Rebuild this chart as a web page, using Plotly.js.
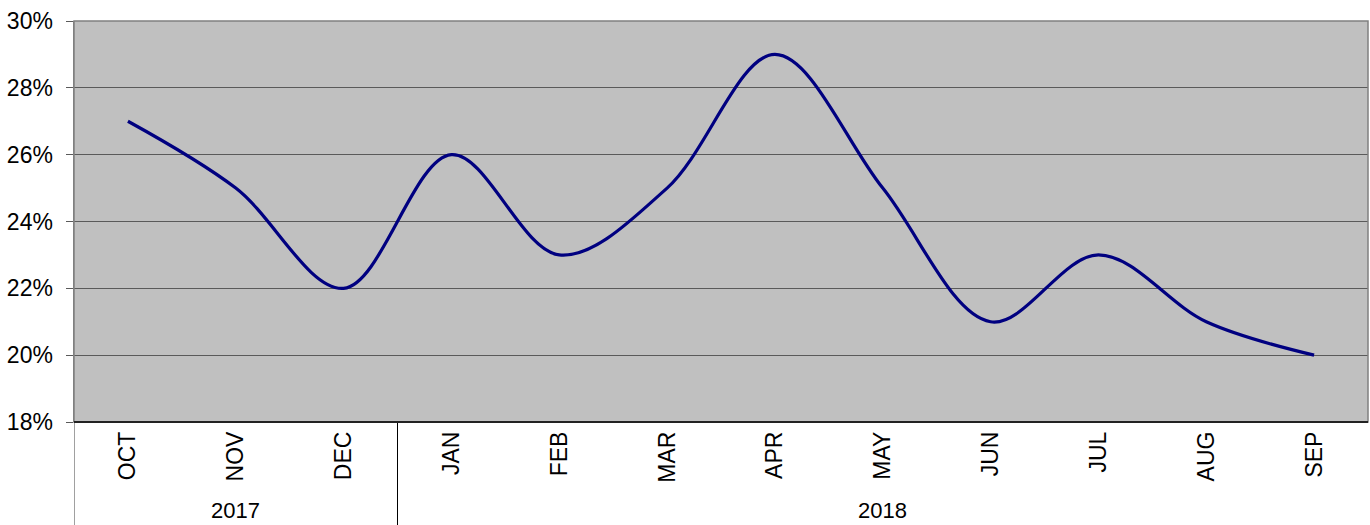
<!DOCTYPE html>
<html>
<head>
<meta charset="utf-8">
<script src="https://cdn.plot.ly/plotly-3.0.1.min.js"></script>
<style>html,body{margin:0;padding:0;background:#fff;}#chart{width:1370px;height:525px;}</style>
</head>
<body>
<div id="chart"></div>
<script>
const months = ["OCT","NOV","DEC","JAN","FEB","MAR","APR","MAY","JUN","JUL","AUG","SEP"];
const years = ["2017","2017","2017","2018","2018","2018","2018","2018","2018","2018","2018","2018"];
const values = [0.27,0.25,0.22,0.26,0.23,0.25,0.29,0.25,0.21,0.23,0.21,0.20];
const yearLabels = ["2017","2018"];

const idx = months.map((m,i)=>i);
const font = "Liberation Sans, Arial, sans-serif";

const groups = yearLabels.map(y=>{
  const ids = idx.filter(i=>years[i]===y);
  return {year:y, start:ids[0], end:ids[ids.length-1]};
});

const annotations = groups.map(g=>({
  x:(g.start+g.end)/2, xref:'x', y:-0.221, yref:'paper',
  text:g.year, showarrow:false, yanchor:'middle',
  font:{family:font,size:22,color:'#000'}
}));

const shapes = [];
shapes.push({type:'rect',xref:'paper',yref:'paper',x0:0,x1:1,y0:0,y1:1,line:{color:'#808080',width:1.5},layer:'above'});
groups.forEach((g,k)=>{
  shapes.push({type:'line',xref:'x',yref:'paper',x0:g.start-0.5,x1:g.start-0.5,y0:0,y1:-0.26,
    line:{color:k===0?'#808080':'#000',width:k===0?1.5:1}});
});
shapes.push({type:'line',xref:'paper',yref:'paper',x0:0,x1:1,y0:0,y1:0,line:{color:'#222',width:2},layer:'above'});

Plotly.newPlot('chart',[{
  x: idx, y: values, type:'scatter', mode:'lines',
  line:{color:'#000080',width:3.2,shape:'spline',smoothing:1},
  hoverinfo:'skip'
}],{
  width:1370,height:525,
  margin:{l:74,r:2,t:21,b:103},
  paper_bgcolor:'#ffffff',plot_bgcolor:'#c0c0c0',
  showlegend:false,
  xaxis:{range:[-0.5,11.5],tickmode:'array',tickvals:idx,ticktext:months,tickangle:-90,
    showgrid:false,zeroline:false,showline:false,ticks:'',ticklabelstandoff:4,
    tickfont:{family:font,size:23,color:'#000'},fixedrange:true},
  yaxis:{range:[0.18,0.30],dtick:0.02,tick0:0.18,tickformat:'.0%',
    showgrid:true,gridcolor:'#5a5a5a',gridwidth:1,zeroline:false,
    ticks:'outside',ticklen:7,tickcolor:'#5a5a5a',showline:true,linecolor:'#808080',linewidth:1.5,
    ticklabelstandoff:8,
    tickfont:{family:font,size:23,color:'#000'},fixedrange:true},
  annotations:annotations,
  shapes:shapes
},{displayModeBar:false,staticPlot:true});
</script>
</body>
</html>
